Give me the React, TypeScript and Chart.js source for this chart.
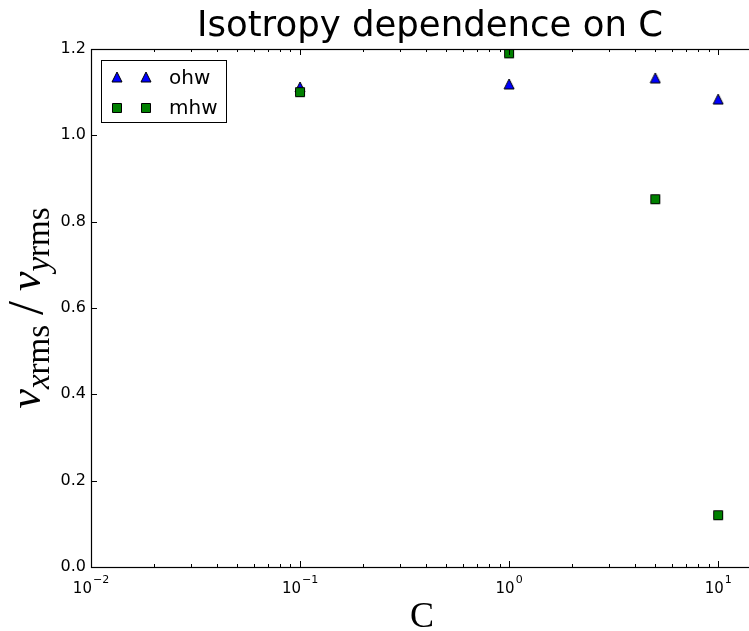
import React, { useEffect, useRef } from "react";
import { Chart, registerables } from "chart.js";

Chart.register(...registerables);

// Parameter C for each run
const cValues = [0.1, 1, 5, 10];
// v_xrms / v_yrms for the two schemes
const ohwValues = [1.112, 1.119, 1.133, 1.084];
const mhwValues = [1.1, 1.19, 0.852, 0.12];

const yTicks = [0, 0.2, 0.4, 0.6, 0.8, 1.0, 1.2];
const xMajorTicks = [0.01, 0.1, 1, 10];
const xExponents = ["\u22122", "\u22121", "0", "1"];
const xMinorTicks = [
  0.02, 0.03, 0.04, 0.05, 0.06, 0.07, 0.08, 0.09,
  0.2, 0.3, 0.4, 0.5, 0.6, 0.7, 0.8, 0.9,
  2, 3, 4, 5, 6, 7, 8, 9,
];

const X_MIN = 0.01;
const X_MAX = 15;
const Y_MIN = 0;
const Y_MAX = 1.2;

const BLUE = "#0000ff";
const GREEN = "#008000";

function makeMarker(kind: "triangle" | "square", fill: string): HTMLCanvasElement {
  const c = document.createElement("canvas");
  c.width = 12;
  c.height = 12;
  const g = c.getContext("2d")!;
  g.fillStyle = fill;
  g.strokeStyle = "#000";
  g.lineWidth = 1;
  g.beginPath();
  if (kind === "triangle") {
    g.moveTo(6, 1);
    g.lineTo(11, 11);
    g.lineTo(1, 11);
    g.closePath();
  } else {
    g.rect(1.5, 1.5, 9, 9);
  }
  g.fill();
  g.stroke();
  return c;
}

// v_{x rms} / v_{y rms}, drawn rotated along the left edge
function drawYLabel(ctx: CanvasRenderingContext2D, cx: number, cy: number) {
  const big = 44;
  const small = 33;
  const serif = '"Liberation Serif"';
  const sub = 9;
  const parts: { t: string; font: string; dy: number; pad?: number }[] = [
    { t: "v", font: `italic ${big}px ${serif}`, dy: 0 },
    { t: "x", font: `italic ${small}px ${serif}`, dy: sub },
    { t: "rms", font: `${small}px ${serif}`, dy: sub },
    { t: "/", font: `50px ${serif}`, dy: 2, pad: 10 },
    { t: "v", font: `italic ${big}px ${serif}`, dy: 0 },
    { t: "y", font: `italic ${small}px ${serif}`, dy: sub },
    { t: "rms", font: `${small}px ${serif}`, dy: sub },
  ];
  let total = 0;
  const widths = parts.map((p) => {
    ctx.font = p.font;
    const w = ctx.measureText(p.t).width + 2 * (p.pad || 0);
    total += w;
    return w;
  });
  ctx.save();
  ctx.translate(cx, cy);
  ctx.rotate(-Math.PI / 2);
  ctx.fillStyle = "#000";
  ctx.textAlign = "left";
  ctx.textBaseline = "alphabetic";
  let x = -total / 2;
  parts.forEach((p, i) => {
    ctx.font = p.font;
    ctx.fillText(p.t, x + (p.pad || 0), p.dy);
    x += widths[i];
  });
  ctx.restore();
}

export default function App() {
  const canvasRef = useRef<HTMLCanvasElement | null>(null);

  useEffect(() => {
    const canvas = canvasRef.current;
    if (!canvas) return;
    const triImg = makeMarker("triangle", BLUE);
    const sqImg = makeMarker("square", GREEN);

    const decorations = {
      id: "decorations",
      afterDraw(chart: any) {
        const { ctx, chartArea: a, scales } = chart;
        const xs = scales.x;
        const ys = scales.y;
        ctx.save();
        ctx.strokeStyle = "#000";
        ctx.lineWidth = 1;

        // inward tick marks on all sides
        const tickX = (v: number, len: number) => {
          const px = Math.round(xs.getPixelForValue(v)) + 0.5;
          ctx.beginPath();
          ctx.moveTo(px, a.bottom);
          ctx.lineTo(px, a.bottom - len);
          ctx.moveTo(px, a.top);
          ctx.lineTo(px, a.top + len);
          ctx.stroke();
        };
        xMajorTicks.forEach((v) => tickX(v, 6));
        xMinorTicks.forEach((v) => tickX(v, 3));
        yTicks.forEach((v) => {
          const py = Math.round(ys.getPixelForValue(v)) + 0.5;
          ctx.beginPath();
          ctx.moveTo(a.left, py);
          ctx.lineTo(a.left + 6, py);
          ctx.moveTo(a.right, py);
          ctx.lineTo(a.right - 6, py);
          ctx.stroke();
        });

        // axes frame
        ctx.lineWidth = 1.2;
        ctx.strokeRect(
          Math.round(a.left) + 0.5,
          Math.round(a.top) + 0.5,
          Math.round(a.right - a.left),
          Math.round(a.bottom - a.top)
        );

        // x tick labels as 10^n
        ctx.fillStyle = "#000";
        ctx.textBaseline = "alphabetic";
        ctx.textAlign = "left";
        xMajorTicks.forEach((v, i) => {
          const px = xs.getPixelForValue(v);
          ctx.font = '15px "DejaVu Sans"';
          const wb = ctx.measureText("10").width;
          ctx.font = '11px "DejaVu Sans"';
          const we = ctx.measureText(xExponents[i]).width;
          const x0 = px - (wb + we + 1) / 2;
          ctx.font = '15px "DejaVu Sans"';
          ctx.fillText("10", x0, 593);
          ctx.font = '11px "DejaVu Sans"';
          ctx.fillText(xExponents[i], x0 + wb + 1, 583);
        });

        // title
        ctx.font = '35.5px "DejaVu Sans"';
        ctx.textAlign = "center";
        ctx.fillText("Isotropy dependence on C", 430, 36);

        // x axis label
        ctx.font = '36px "Liberation Serif"';
        ctx.fillText("C", 422, 627);

        // y axis label
        drawYLabel(ctx, 40, 308);

        // legend
        const lx = 101, ly = 60, lw = 125, lh = 62;
        ctx.fillStyle = "#fff";
        ctx.fillRect(lx, ly, lw, lh);
        ctx.lineWidth = 1;
        ctx.strokeStyle = "#000";
        ctx.strokeRect(lx + 0.5, ly + 0.5, lw, lh);
        ctx.drawImage(triImg, 117 - 6, 77 - 6);
        ctx.drawImage(triImg, 146 - 6, 77 - 6);
        ctx.drawImage(sqImg, 117 - 6, 108 - 6);
        ctx.drawImage(sqImg, 146 - 6, 108 - 6);
        ctx.fillStyle = "#000";
        ctx.textAlign = "left";
        ctx.font = '20px "DejaVu Sans"';
        ctx.fillText("ohw", 169, 84);
        ctx.fillText("mhw", 169, 114);

        ctx.restore();
      },
    };

    const chart = new Chart(canvas, {
      type: "scatter",
      data: {
        datasets: [
          {
            label: "ohw",
            data: cValues.map((c, i) => ({ x: c, y: ohwValues[i] })),
            pointStyle: triImg,
            order: 2,
          },
          {
            label: "mhw",
            data: cValues.map((c, i) => ({ x: c, y: mhwValues[i] })),
            pointStyle: sqImg,
            order: 1,
          },
        ],
      },
      options: {
        responsive: false,
        animation: false,
        devicePixelRatio: 1,
        layout: { padding: { top: 49, left: 0, right: 5, bottom: 0 } },
        plugins: {
          legend: { display: false },
          tooltip: { enabled: false },
          title: { display: false },
        },
        scales: {
          x: {
            type: "logarithmic",
            min: X_MIN,
            max: X_MAX,
            ticks: { display: false },
            grid: { display: false, drawTicks: false },
            border: { display: false },
            afterFit: (s: any) => {
              s.height = 64;
            },
          },
          y: {
            type: "linear",
            min: Y_MIN,
            max: Y_MAX,
            afterBuildTicks: (s: any) => {
              s.ticks = yTicks.map((v) => ({ value: v }));
            },
            ticks: {
              color: "#000",
              padding: 5,
              font: { family: '"DejaVu Sans"', size: 16 },
              callback: (v: any) => Number(v).toFixed(1),
            },
            grid: { display: false, drawTicks: false },
            border: { display: false },
            afterFit: (s: any) => {
              s.width = 91;
            },
          },
        },
      },
      plugins: [decorations],
    } as any);

    return () => chart.destroy();
  }, []);

  return (
    <div
      style={{
        position: "fixed",
        left: 0,
        top: 0,
        width: 749,
        height: 631,
        overflow: "hidden",
        background: "#fff",
      }}
    >
      <canvas
        ref={canvasRef}
        width={760}
        height={631}
        style={{ display: "block", width: 760, height: 631 }}
      />
    </div>
  );
}
